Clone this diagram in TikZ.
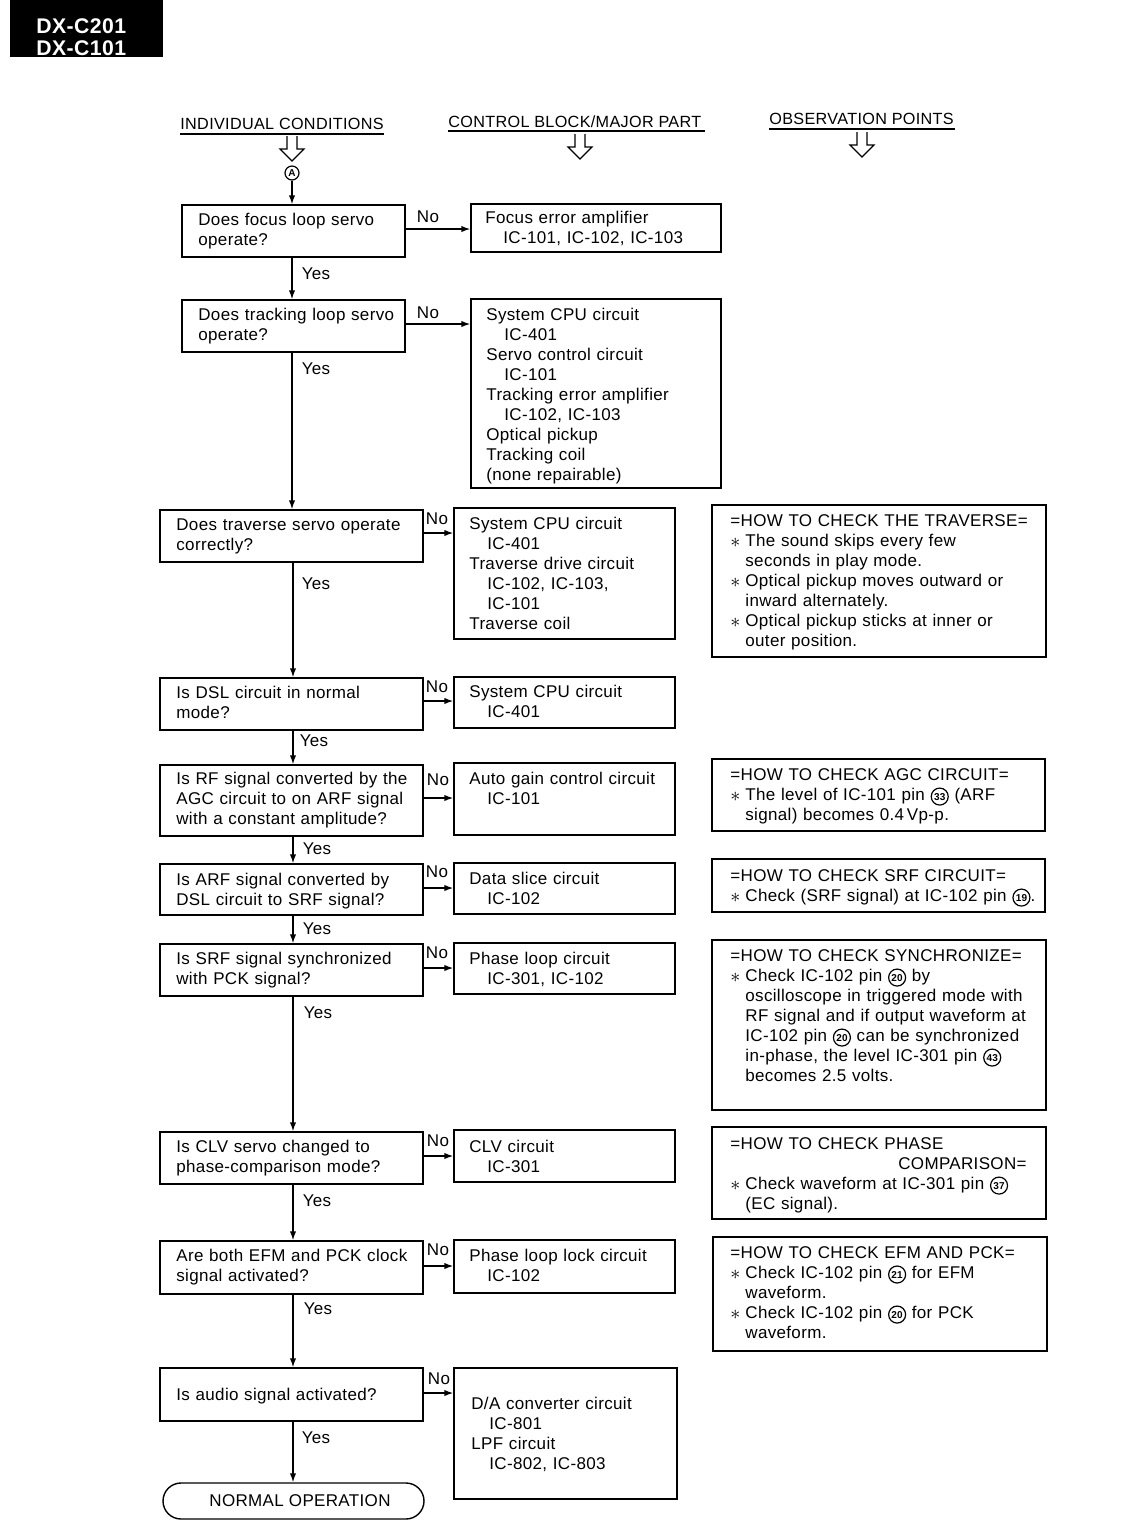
\documentclass[tikz,border=0pt]{standalone}
\usepackage{fontspec}
\setmainfont{Liberation Sans}[LetterSpace=2]
\usetikzlibrary{arrows.meta,fit}
\newcommand\pinc[1]{\tikz[baseline=(pc.base)]\node[circle,draw,line width=0.6pt,inner sep=0.1pt,minimum size=8.5pt,font=\fontsize{5}{5}\selectfont\bfseries](pc){#1};}
\newcommand\harrow[2]{\draw[line width=0.6pt] (#1-5,#2) -- (#1-5,#2+13) -- (#1-12,#2+13) -- (#1,#2+25) -- (#1+12,#2+13) -- (#1+5,#2+13) -- (#1+5,#2);}
\newcommand\astm{\makebox[7.5pt][l]{\smash{\raisebox{-0.8pt}{\fontsize{10}{10}\selectfont$\ast$}}}}
\newcommand\ind{\hspace*{7.5pt}}
\newcommand\indc{\hspace*{9pt}}
\begin{document}
\begin{tikzpicture}[x=0.5pt,y=-0.5pt,
  box/.style={draw,line width=0.7pt,inner sep=0pt},
  txt/.style={anchor=base west,inner sep=0pt,align=left,text width=200pt,font=\fontsize{8.5}{10}\selectfont},
  hdr/.style={anchor=base west,inner sep=0pt,font=\fontsize{8.1}{10}\selectfont},
  lbl/.style={inner sep=0pt,font=\fontsize{8.5}{10}\selectfont},
  arr/.style={line width=0.7pt,-{Latex[length=4.5pt,width=3.2pt]}},
]
\useasboundingbox (0,0) rectangle (1145,1539);
% title block
\fill[black] (10,0) rectangle (163,57);
\node[anchor=base west,inner sep=0pt,text=white,align=left,text width=60pt,font=\fontsize{10.6}{11}\selectfont\bfseries] (title) at (36,33) {DX-C201\\DX-C101};
% column headers
\node[hdr] (h1) at (180,129) {INDIVIDUAL CONDITIONS};
\node[hdr] (h2) at (448,127) {CONTROL BLOCK/MAJOR PART};
\node[hdr] (h3) at (769,124) {OBSERVATION POINTS};
\draw[line width=0.7pt] (180,134) -- (384,134);
\draw[line width=0.7pt] (448,131) -- (705,131);
\draw[line width=0.7pt] (769,129) -- (955,129);
\harrow{292}{136}
\harrow{580}{134}
\harrow{862}{132}
\coordinate (ax) at (292,0);
\coordinate (bx) at (293,0);
\node[circle,draw,line width=0.6pt,inner sep=0pt,minimum size=7pt,font=\fontsize{5}{5}\selectfont\bfseries] (cA) at (292,173) {A};
% question boxes
\node[box,fit={(182,205)(405,257)}] (q1) {};
\node[box,fit={(182,300)(405,352)}] (q2) {};
\node[box,fit={(160,510)(423,562)}] (q3) {};
\node[box,fit={(160,678)(423,730)}] (q4) {};
\node[box,fit={(160,765)(423,836)}] (q5) {};
\node[box,fit={(160,864)(423,915)}] (q6) {};
\node[box,fit={(160,944)(423,996)}] (q7) {};
\node[box,fit={(160,1132)(423,1184)}] (q8) {};
\node[box,fit={(160,1241)(423,1294)}] (q9) {};
\node[box,fit={(160,1368)(423,1421)}] (q10) {};
\node[draw,line width=0.7pt,inner sep=0pt,rounded corners=9pt,fit={(163,1483)(424,1519)}] (end) {};
\node[lbl] at (300,1501) {NORMAL OPERATION};
\node[txt] at (198,225) {Does focus loop servo\\operate?};
\node[txt] at (198,320) {Does tracking loop servo\\operate?};
\node[txt] at (176,530) {Does traverse servo operate\\correctly?};
\node[txt] at (176,698) {Is DSL circuit in normal\\mode?};
\node[txt] at (176,784) {Is RF signal converted by the\\AGC circuit to on ARF signal\\with a constant amplitude?};
\node[txt] at (176,885) {Is ARF signal converted by\\DSL circuit to SRF signal?};
\node[txt] at (176,964) {Is SRF signal synchronized\\with PCK signal?};
\node[txt] at (176,1152) {Is CLV servo changed to\\phase-comparison mode?};
\node[txt] at (176,1261) {Are both EFM and PCK clock\\signal activated?};
\node[txt] at (176,1400) {Is audio signal activated?};
% control boxes
\node[box,fit={(471,204)(721,252)}] (c1) {};
\node[box,fit={(471,299)(721,488)}] (c2) {};
\node[box,fit={(454,508)(675,639)}] (c3) {};
\node[box,fit={(454,677)(675,728)}] (c4) {};
\node[box,fit={(454,763)(675,835)}] (c5) {};
\node[box,fit={(454,863)(675,914)}] (c6) {};
\node[box,fit={(454,943)(675,994)}] (c7) {};
\node[box,fit={(454,1130)(675,1182)}] (c8) {};
\node[box,fit={(454,1240)(675,1293)}] (c9) {};
\node[box,fit={(454,1368)(677,1499)}] (c10) {};
\node[txt] at (485,223) {Focus error amplifier\\\indc IC-101, IC-102, IC-103};
\node[txt] at (486,320) {System CPU circuit\\\indc IC-401\\Servo control circuit\\\indc IC-101\\Tracking error amplifier\\\indc IC-102, IC-103\\Optical pickup\\Tracking coil\\(none repairable)};
\node[txt] at (469,529) {System CPU circuit\\\indc IC-401\\Traverse drive circuit\\\indc IC-102, IC-103,\\\indc IC-101\\Traverse coil};
\node[txt] at (469,697) {System CPU circuit\\\indc IC-401};
\node[txt] at (469,784) {Auto gain control circuit\\\indc IC-101};
\node[txt] at (469,884) {Data slice circuit\\\indc IC-102};
\node[txt] at (469,964) {Phase loop circuit\\\indc IC-301, IC-102};
\node[txt] at (469,1152) {CLV circuit\\\indc IC-301};
\node[txt] at (469,1261) {Phase loop lock circuit\\\indc IC-102};
\node[txt] at (471,1409) {D/A converter circuit\\\indc IC-801\\LPF circuit\\\indc IC-802, IC-803};
% observation boxes
\node[box,fit={(712,505)(1046,657)}] (o1) {};
\node[box,fit={(712,759)(1045,831)}] (o2) {};
\node[box,fit={(712,859)(1045,912)}] (o3) {};
\node[box,fit={(712,940)(1046,1110)}] (o4) {};
\node[box,fit={(712,1127)(1046,1219)}] (o5) {};
\node[box,fit={(713,1237)(1047,1351)}] (o6) {};
\node[txt] at (730,526) {=HOW TO CHECK THE TRAVERSE=\\\astm The sound skips every few\\\ind seconds in play mode.\\\astm Optical pickup moves outward or\\\ind inward alternately.\\\astm Optical pickup sticks at inner or\\\ind outer position.};
\node[txt] at (730,780) {=HOW TO CHECK AGC CIRCUIT=\\\astm The level of IC-101 pin \pinc{33} (ARF\\\ind signal) becomes 0.4\,Vp-p.};
\node[txt] at (730,881) {=HOW TO CHECK SRF CIRCUIT=\\\astm Check (SRF signal) at IC-102 pin \pinc{19}.};
\node[txt] at (730,961) {=HOW TO CHECK SYNCHRONIZE=\\\astm Check IC-102 pin \pinc{20} by\\\ind oscilloscope in triggered mode with\\\ind RF signal and if output waveform at\\\ind IC-102 pin \pinc{20} can be synchronized\\\ind in-phase, the level IC-301 pin \pinc{43}\\\ind becomes 2.5 volts.};
\node[txt] at (730,1149) {=HOW TO CHECK PHASE\\[10pt]\astm Check waveform at IC-301 pin \pinc{37}\\\ind (EC signal).};
\node[anchor=base east,inner sep=0pt,font=\fontsize{8.5}{10}\selectfont] at (1027,1169) {COMPARISON=};
\node[txt] at (730,1258) {=HOW TO CHECK EFM AND PCK=\\\astm Check IC-102 pin \pinc{21} for EFM\\\ind waveform.\\\astm Check IC-102 pin \pinc{20} for PCK\\\ind waveform.};
% connectors: yes
\draw[arr] (cA.south) -- (q1.north -| ax);
\draw[arr] (q1.south -| ax) -- (q2.north -| ax);
\draw[arr] (q2.south -| ax) -- (q3.north -| ax);
\draw[arr] (q3.south -| bx) -- (q4.north -| bx);
\draw[arr] (q4.south -| bx) -- (q5.north -| bx);
\draw[arr] (q5.south -| bx) -- (q6.north -| bx);
\draw[arr] (q6.south -| bx) -- (q7.north -| bx);
\draw[arr] (q7.south -| bx) -- (q8.north -| bx);
\draw[arr] (q8.south -| bx) -- (q9.north -| bx);
\draw[arr] (q9.south -| bx) -- (q10.north -| bx);
\draw[arr] (q10.south -| bx) -- (end.north -| bx);
\node[lbl] at (316,274) {Yes};
\node[lbl] at (316,369) {Yes};
\node[lbl] at (316,584) {Yes};
\node[lbl] at (314,741) {Yes};
\node[lbl] at (317,849) {Yes};
\node[lbl] at (317,929) {Yes};
\node[lbl] at (318,1013) {Yes};
\node[lbl] at (317,1201) {Yes};
\node[lbl] at (318,1309) {Yes};
\node[lbl] at (316,1438) {Yes};
% connectors: no
\draw[arr] (q1.east |- 0,229) -- (c1.west |- 0,229);
\draw[arr] (q2.east |- 0,324) -- (c2.west |- 0,324);
\draw[arr] (q3.east |- 0,533) -- (c3.west |- 0,533);
\draw[arr] (q4.east |- 0,701) -- (c4.west |- 0,701);
\draw[arr] (q5.east |- 0,798) -- (c5.west |- 0,798);
\draw[arr] (q6.east |- 0,888) -- (c6.west |- 0,888);
\draw[arr] (q7.east |- 0,968) -- (c7.west |- 0,968);
\draw[arr] (q8.east |- 0,1156) -- (c8.west |- 0,1156);
\draw[arr] (q9.east |- 0,1266) -- (c9.west |- 0,1266);
\draw[arr] (q10.east |- 0,1393) -- (c10.west |- 0,1393);
\node[lbl] at (428,217) {No};
\node[lbl] at (428,313) {No};
\node[lbl] at (437,519) {No};
\node[lbl] at (437,687) {No};
\node[lbl] at (438,780) {No};
\node[lbl] at (437,872) {No};
\node[lbl] at (437,953) {No};
\node[lbl] at (438,1141) {No};
\node[lbl] at (438,1250) {No};
\node[lbl] at (439,1379) {No};
\end{tikzpicture}
\end{document}
